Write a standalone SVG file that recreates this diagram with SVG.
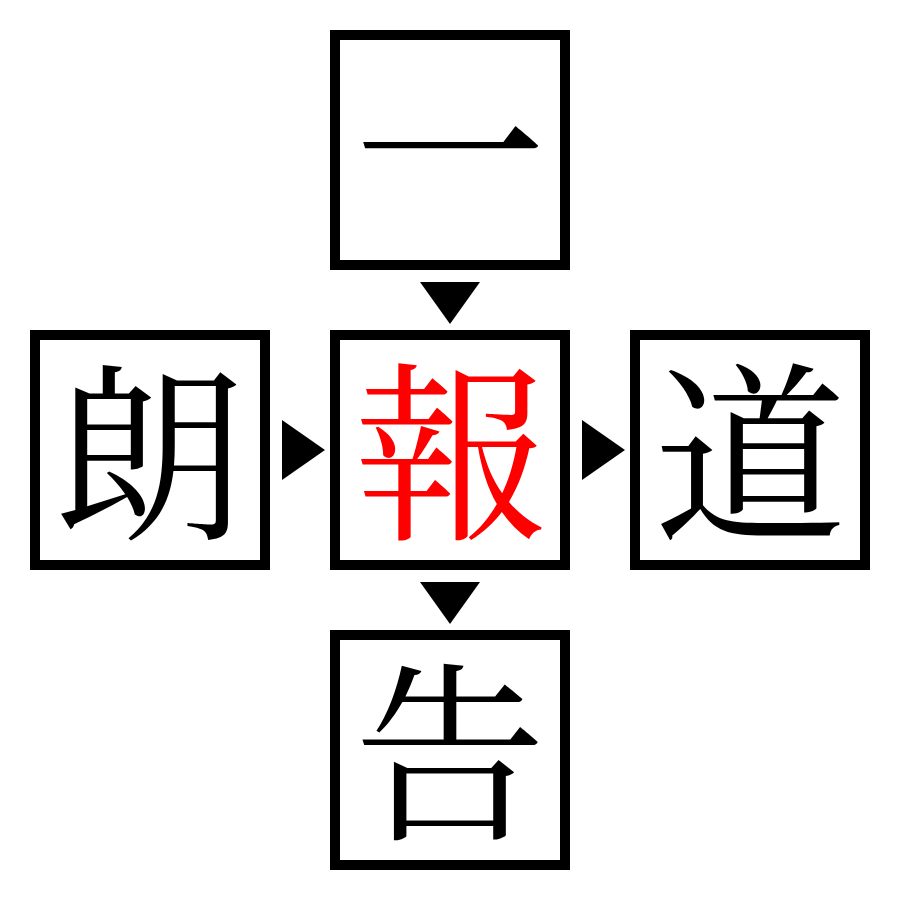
<svg xmlns="http://www.w3.org/2000/svg" width="900" height="900" viewBox="0 0 900 900">
<style>
.box{fill:#fff;stroke:#000;stroke-width:10}
.ch{font-family:"Noto Serif CJK JP","Noto Sans CJK JP",serif;font-size:192px;text-anchor:middle;dominant-baseline:central;fill:#000}
.hl{fill:#ff0000}
.arr{fill:#000}
</style>
<rect width="900" height="900" fill="#fff"/>
<g id="connectors">
<polygon class="arr" points="420,282 480,282 450,324"/>
<polygon class="arr" points="420,582 480,582 450,624"/>
<polygon class="arr" points="282,420 282,480 325,450"/>
<polygon class="arr" points="582,420 582,480 625,450"/>
</g>
<g id="node-top"><rect class="box" x="335" y="35" width="230" height="230"/><text class="ch" x="450" y="142">一</text></g>
<g id="node-left"><rect class="box" x="35" y="335" width="230" height="230"/><text class="ch" x="150" y="442">朗</text></g>
<g id="node-center"><rect class="box" x="335" y="335" width="230" height="230"/><text class="ch hl" x="450" y="442">報</text></g>
<g id="node-right"><rect class="box" x="635" y="335" width="230" height="230"/><text class="ch" x="750" y="442">道</text></g>
<g id="node-bottom"><rect class="box" x="335" y="635" width="230" height="230"/><text class="ch" x="450" y="742">告</text></g>
</svg>
